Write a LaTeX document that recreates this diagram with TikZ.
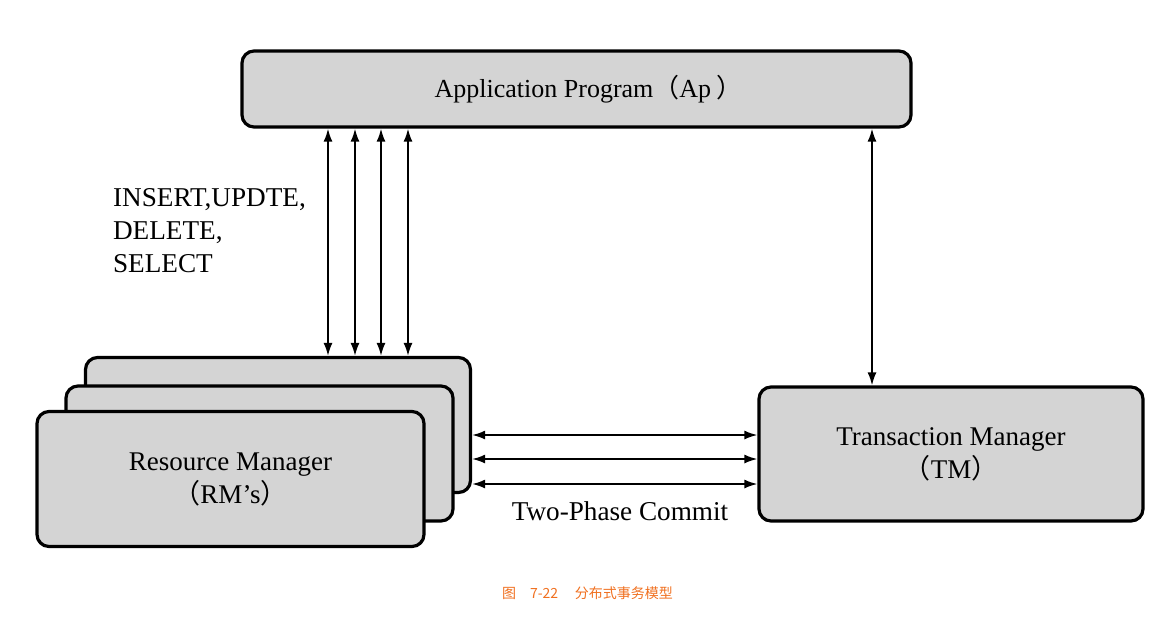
\documentclass[tikz,border=0pt]{standalone}
\usepackage{fontspec}
\setmainfont{Liberation Serif}
\newfontfamily\cjk{Noto Sans CJK SC}
\usetikzlibrary{arrows.meta}
\definecolor{boxgray}{RGB}{212,212,212}
\definecolor{capcolor}{RGB}{240,112,32}

\begin{document}
\begin{tikzpicture}[x=0.5pt, y=-0.5pt, box/.style={draw, fill=boxgray, rounded corners=6pt, line width=1.6pt, align=center, font=\fontsize{13.5}{16.5}\selectfont}, lbl/.style={align=left, font=\fontsize{13.6}{16.5}\selectfont}, n/.style={{Latex[length=6.5pt,width=4.5pt]}-{Latex[length=6.5pt,width=4.5pt]}, line width=0.9pt}]
                \useasboundingbox (0,0) rectangle (1172,617);
                % nodes
                \node[box, minimum width=334.5pt, minimum height=38pt, font=\fontsize{13}{16}\selectfont] (ap) at (576.5,89) {\hspace{12pt}Application Program{\cjk （}Ap\hspace{0.2em}{\cjk ）}};
                \node[box, minimum width=192.5pt, minimum height=67.5pt] (rm3) at (278,425) {};
                \node[box, minimum width=193.5pt, minimum height=67.5pt] (rm2) at (259.5,453.5) {};
                \node[box, minimum width=193.5pt, minimum height=67.5pt] (rm1) at (230.5,479) {Resource Manager\\{\cjk （}RM’s{\cjk ）}};
                \node[box, minimum width=192pt, minimum height=67pt] (tm) at (951,454) {Transaction Manager\\{\cjk （}TM{\cjk ）}};
                \node[lbl, anchor=north west] (sql) at (106,181) {INSERT,UPDTE,\\DELETE,\\SELECT};
                \node[lbl] (tpc) at (620,511) {Two-Phase Commit};
                \node[font=\cjk\fontsize{7}{8}\selectfont, text=capcolor] (cap) at (587.5,593) {图\hspace{1em}7-22\hspace{1.2em}分布式事务模型};
                % edges
                \foreach \x in {328,355,381,408}
                    \draw [n] (ap.south -| \x,0) -- (rm3.north -| \x,0);
                \draw [n] (ap.south -| 872,0) -- (tm.north -| 872,0);
                \foreach \y in {435,459,484}
                    \draw [n] (rm3.east |- 0,\y) -- (tm.west |- 0,\y);
            \end{tikzpicture}
\end{document}
